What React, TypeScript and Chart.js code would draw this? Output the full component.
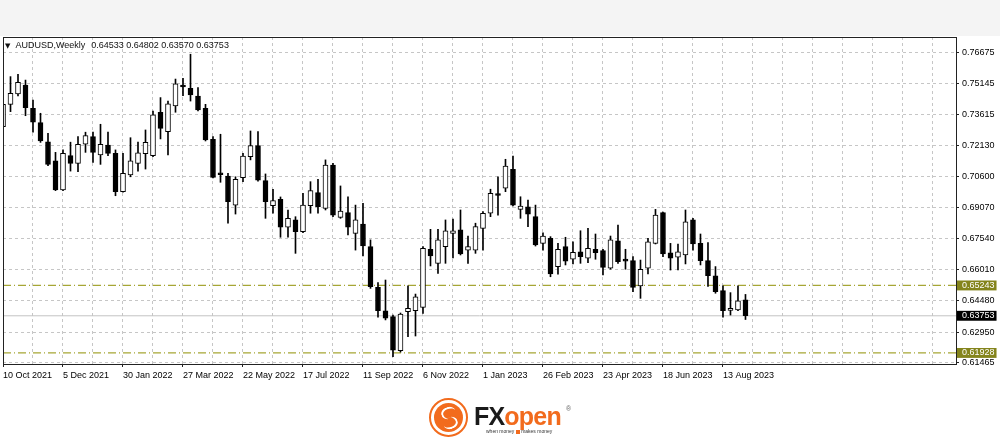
import React, { useEffect, useRef } from 'react';
import { Chart, registerables } from 'chart.js';

Chart.register(...registerables);

// ---- Data (AUDUSD weekly, from 10 Oct 2021) ----
const opens = [0.7304,0.7414,0.7465,0.7509,0.7394,0.7324,0.7230,0.7136,0.6993,0.7162,
0.7124,0.7218,0.7255,0.7165,0.7214,0.7173,0.6985,0.7067,0.7124,0.7171,
0.7162,0.7375,0.7280,0.7406,0.7502,0.7493,0.7455,0.7394,0.7242,0.7071,
0.7062,0.6919,0.7054,0.7157,0.7211,0.7039,0.6916,0.6947,0.6810,0.6846,
0.6788,0.6916,0.6980,0.6903,0.7116,0.6859,0.6882,0.6780,0.6826,0.6715,
0.6515,0.6400,0.6371,0.6204,0.6395,0.6400,0.6417,0.6702,0.6633,0.6715,
0.6780,0.6797,0.6698,0.6698,0.6805,0.6879,0.6972,0.7002,0.7095,0.6898,
0.6911,0.6862,0.6731,0.6756,0.6616,0.6715,0.6653,0.6690,0.6658,0.6702,
0.6695,0.6609,0.6743,0.6648,0.6646,0.6522,0.6609,0.6731,0.6882,0.6685,
0.6663,0.6674,0.6846,0.6731,0.6646,0.6571,0.6499,0.6402,0.6404,0.64533];

const highs = [0.7445,0.7550,0.7561,0.7533,0.7435,0.7370,0.7272,0.7178,0.7190,0.7228,
0.7255,0.7277,0.7277,0.7316,0.7277,0.7190,0.7173,0.7250,0.7228,0.7288,
0.7381,0.7447,0.7430,0.7538,0.7542,0.7660,0.7496,0.7414,0.7255,0.7267,
0.7075,0.7058,0.7173,0.7283,0.7280,0.7072,0.6997,0.6959,0.6895,0.6862,
0.6977,0.7034,0.7046,0.7141,0.7124,0.7013,0.6960,0.6919,0.6928,0.6748,
0.6538,0.6551,0.6379,0.6389,0.6522,0.6482,0.6715,0.6800,0.6800,0.6846,
0.6850,0.6895,0.6767,0.6830,0.6887,0.6997,0.7058,0.7144,0.7160,0.6960,
0.6944,0.6919,0.6783,0.6764,0.6731,0.6761,0.6739,0.6793,0.6805,0.6777,
0.6702,0.6767,0.6821,0.6702,0.6666,0.6649,0.6756,0.6898,0.6885,0.6731,
0.6728,0.6895,0.6854,0.6777,0.6735,0.6617,0.6522,0.6489,0.6522,0.64802];

const lows = [0.7288,0.7378,0.7455,0.7358,0.7277,0.7227,0.7113,0.6990,0.6990,0.7086,
0.7083,0.7178,0.7129,0.7119,0.7162,0.6965,0.6982,0.7058,0.7086,0.7096,
0.7157,0.7244,0.7165,0.7375,0.7456,0.7430,0.7381,0.7234,0.7052,0.7031,
0.6830,0.6875,0.7034,0.7141,0.7037,0.6854,0.6879,0.6761,0.6761,0.6682,
0.6783,0.6879,0.6879,0.6895,0.6862,0.6854,0.6772,0.6698,0.6669,0.6510,
0.6368,0.6355,0.6174,0.6197,0.6273,0.6276,0.6387,0.6620,0.6584,0.6633,
0.6659,0.6674,0.6633,0.6682,0.6698,0.6862,0.6870,0.6985,0.6915,0.6854,
0.6813,0.6718,0.6698,0.6567,0.6580,0.6625,0.6630,0.6633,0.6636,0.6653,
0.6576,0.6604,0.6633,0.6604,0.6494,0.6461,0.6581,0.6728,0.6666,0.6600,
0.6600,0.6630,0.6698,0.6625,0.6520,0.6486,0.6368,0.6379,0.6400,0.63570];

const closes = [0.7414,0.7468,0.7522,0.7397,0.7326,0.7234,0.7119,0.6993,0.7173,0.7124,
0.7218,0.7260,0.7178,0.7218,0.7173,0.6985,0.7075,0.7136,0.7176,0.7227,
0.7362,0.7296,0.7416,0.7514,0.7499,0.7460,0.7386,0.7239,0.7055,0.7068,
0.6936,0.7046,0.7160,0.7211,0.7042,0.6936,0.6941,0.6810,0.6854,0.6788,
0.6919,0.6990,0.6911,0.7116,0.6870,0.6890,0.6810,0.6846,0.6718,0.6518,
0.6400,0.6363,0.6207,0.6384,0.6412,0.6469,0.6707,0.6669,0.6748,0.6793,
0.6793,0.6679,0.6715,0.6813,0.6879,0.6977,0.6966,0.7111,0.6919,0.6914,
0.6875,0.6723,0.6767,0.6581,0.6702,0.6644,0.6687,0.6666,0.6707,0.6685,
0.6613,0.6748,0.6641,0.6644,0.6515,0.6604,0.6739,0.6870,0.6679,0.6658,
0.6690,0.6837,0.6728,0.6646,0.6572,0.6494,0.6400,0.6409,0.6449,0.63753];

// date labels, one every 8 weeks starting at week 0
const xTickLabels = ['10 Oct 2021','5 Dec 2021','30 Jan 2022','27 Mar 2022','22 May 2022','17 Jul 2022',
  '11 Sep 2022','6 Nov 2022','1 Jan 2023','26 Feb 2023','23 Apr 2023','18 Jun 2023','13 Aug 2023'];
const yTickValues = [0.76675,0.75145,0.73615,0.72130,0.70600,0.69070,0.67540,0.66010,0.64480,0.62950,0.61465];
const levelLines = [0.65243, 0.61928];
const lastPrice = 0.63753;
const titleSymbol = 'AUDUSD,Weekly';
const titleValues = ['0.64533', '0.64802', '0.63570', '0.63753'];

const X_MIN = 0;
const X_MAX = 127.07;
const Y_MIN = 0.61385;
const Y_MAX = 0.77446;
const GRID_STEP = 4;
const LABEL_STEP = 8;

const FONT = '"Liberation Sans", Arial, sans-serif';
const OLIVE_LINE = '#a6a635';
const OLIVE_BOX = '#84841c';
const ORANGE = '#f26b1d';

const near = (a: number, b: number) => Math.abs(a - b) < 1e-9;
const specialColor = (v: number): string | null => {
  if (near(v, lastPrice)) return '#000000';
  for (const l of levelLines) if (near(v, l)) return OLIVE_BOX;
  return null;
};

const framePlugin = {
  id: 'frame',
  afterDatasetsDraw(chart: any) {
    const { ctx, chartArea: a } = chart;
    ctx.save();
    ctx.strokeStyle = '#222';
    ctx.lineWidth = 1;
    const l = Math.floor(a.left) + 0.5;
    const t = Math.floor(a.top) + 0.5;
    const r = Math.floor(a.right) + 0.5;
    const b = Math.floor(a.bottom) + 0.5;
    ctx.strokeRect(l, t, r - l, b - t);
    ctx.restore();
  },
};

export default function App() {
  const ref = useRef<HTMLCanvasElement>(null);

  useEffect(() => {
    if (!ref.current) return;
    const idx = opens.map((_, i) => i);
    const bodyData = idx.map((i) => ({ x: i, y: [opens[i], closes[i]] }));
    const wickData = idx.map((i) => ({ x: i, y: [lows[i], highs[i]] }));
    const gridWeeks: number[] = [];
    for (let w = 0; w <= X_MAX; w += GRID_STEP) gridWeeks.push(w);
    const labelFor = (v: number) =>
      v % LABEL_STEP === 0 && xTickLabels[v / LABEL_STEP] ? xTickLabels[v / LABEL_STEP] : '';

    const levelDatasets = levelLines.map((lv) => ({
      type: 'line' as const,
      label: 'level ' + lv,
      data: [{ x: X_MIN, y: lv }, { x: X_MAX, y: lv }],
      borderColor: OLIVE_LINE,
      borderWidth: 1.2,
      borderDash: [8, 3, 1, 3],
      pointRadius: 0,
      order: 3,
    }));

    const chart = new Chart(ref.current, {
      type: 'bar',
      data: {
        datasets: [
          ...levelDatasets,
          {
            type: 'line',
            label: 'last',
            data: [{ x: X_MIN, y: lastPrice }, { x: X_MAX, y: lastPrice }],
            borderColor: '#c4c4c4',
            borderWidth: 1,
            pointRadius: 0,
            order: 4,
          } as any,
          {
            type: 'bar',
            label: 'wicks',
            data: wickData as any,
            backgroundColor: '#000',
            borderWidth: 0,
            barThickness: 1,
            grouped: false,
            order: 2,
          } as any,
          {
            type: 'bar',
            label: 'bodies',
            data: bodyData as any,
            backgroundColor: (c: any) => (closes[c.dataIndex] >= opens[c.dataIndex] ? '#ffffff' : '#000000'),
            borderColor: '#000',
            borderWidth: 1,
            borderSkipped: false,
            barThickness: 5,
            minBarLength: 2,
            grouped: false,
            order: 1,
          } as any,
        ],
      },
      options: {
        responsive: false,
        animation: false,
        devicePixelRatio: 1,
        layout: { padding: { left: 3, top: 37, right: 0, bottom: 0 } },
        plugins: { legend: { display: false }, tooltip: { enabled: false }, title: { display: false } },
        scales: {
          x: {
            type: 'linear',
            position: 'bottom',
            offset: false,
            min: X_MIN,
            max: X_MAX,
            afterFit: (s: any) => { s.height = 84; s.paddingLeft = 0; s.paddingRight = 0; },
            afterBuildTicks: (s: any) => { s.ticks = gridWeeks.map((v) => ({ value: v })); },
            ticks: {
              autoSkip: false,
              maxRotation: 0,
              minRotation: 0,
              align: 'start',
              padding: 3,
              color: '#000',
              font: { family: FONT, size: 9 },
              callback: (v: any) => labelFor(Number(v)),
            },
            grid: {
              offset: false,
              color: '#c6c6c6',
              lineWidth: 1,
              drawTicks: true,
              tickLength: 3,
              tickColor: (c: any) => (c.tick && labelFor(c.tick.value) ? '#222' : 'rgba(0,0,0,0)'),
            },
            border: { display: true, color: '#222', width: 1, dash: [3, 3] },
          } as any,
          y: {
            type: 'linear',
            position: 'right',
            offset: false,
            min: Y_MIN,
            max: Y_MAX,
            afterFit: (s: any) => { s.width = 44; },
            afterBuildTicks: (s: any) => {
              s.ticks = [...yTickValues, ...levelLines, lastPrice].sort((a, b) => a - b).map((v) => ({ value: v }));
            },
            ticks: {
              autoSkip: false,
              padding: 3,
              font: { family: FONT, size: 9, lineHeight: 1.1 },
              color: (c: any) => (c.tick && specialColor(c.tick.value) ? '#ffffff' : '#000000'),
              showLabelBackdrop: (c: any) => !!(c.tick && specialColor(c.tick.value)),
              backdropColor: (c: any) => (c.tick && specialColor(c.tick.value)) || 'rgba(0,0,0,0)',
              backdropPadding: { top: 0, bottom: 0, left: 5, right: 2 },
              callback: (v: any) => Number(v).toFixed(5),
            },
            grid: {
              color: (c: any) => (c.tick && specialColor(c.tick.value) ? 'rgba(0,0,0,0)' : '#c6c6c6'),
              lineWidth: 1,
              drawTicks: true,
              tickLength: 3,
              tickColor: (c: any) => (c.tick && specialColor(c.tick.value) ? 'rgba(0,0,0,0)' : '#222'),
            },
            border: { display: true, color: '#222', width: 1, dash: [3, 3] },
          } as any,
        },
      },
      plugins: [framePlugin],
    });
    return () => chart.destroy();
  }, []);

  return (
    <div style={{ position: 'fixed', left: 0, top: 0, width: 1000, height: 448, background: '#ffffff', overflow: 'hidden', fontFamily: FONT }}>
      <div style={{ position: 'absolute', left: 0, top: 0, width: 1000, height: 36, background: '#f4f4f4' }} />
      <canvas ref={ref} width={1000} height={448} style={{ position: 'absolute', left: 0, top: 0, width: 1000, height: 448 }} />
      <div style={{ position: 'absolute', left: 5, top: 40, fontSize: 9, lineHeight: '11px', color: '#111', whiteSpace: 'pre' }}>
        <span style={{ fontFamily: '"DejaVu Sans", sans-serif', fontSize: 7 }}>▼</span>
        <span style={{ marginLeft: 5 }}>{titleSymbol}</span>
        <span style={{ marginLeft: 6 }}>{titleValues.join(' ')}</span>
      </div>
      {/* logo */}
      <div style={{ position: 'absolute', left: 429, top: 398, width: 35, height: 35, borderRadius: '50%', border: `2px solid ${ORANGE}`, background: '#fff' }}>
        <div style={{ position: 'absolute', left: 3, top: 3, width: 29, height: 29, borderRadius: '50%', background: ORANGE }} />
        <div style={{ position: 'absolute', left: 10, top: 7, width: 13, height: 10, borderRadius: '50%', borderTop: '2px solid #fff', borderLeft: '2px solid #fff', transform: 'rotate(-20deg)' }} />
        <div style={{ position: 'absolute', left: 12, top: 17, width: 13, height: 10, borderRadius: '50%', borderBottom: '2px solid #fff', borderRight: '2px solid #fff', transform: 'rotate(-20deg)' }} />
      </div>
      <div style={{ position: 'absolute', left: 474, top: 402, fontSize: 25, fontWeight: 700, lineHeight: '28px', letterSpacing: -0.8, whiteSpace: 'pre' }}>
        <span style={{ color: '#1a1a1a' }}>FX</span><span style={{ color: ORANGE }}>open</span>
      </div>
      <div style={{ position: 'absolute', left: 566, top: 405, fontSize: 7, color: '#666' }}>®</div>
      <div style={{ position: 'absolute', left: 486, top: 428, fontSize: 5, lineHeight: '6px', color: '#333', whiteSpace: 'pre' }}>
        <span>when money </span>
        <span style={{ display: 'inline-block', width: 4, height: 4, background: ORANGE, verticalAlign: 'middle' }} />
        <span> makes money</span>
      </div>
    </div>
  );
}
